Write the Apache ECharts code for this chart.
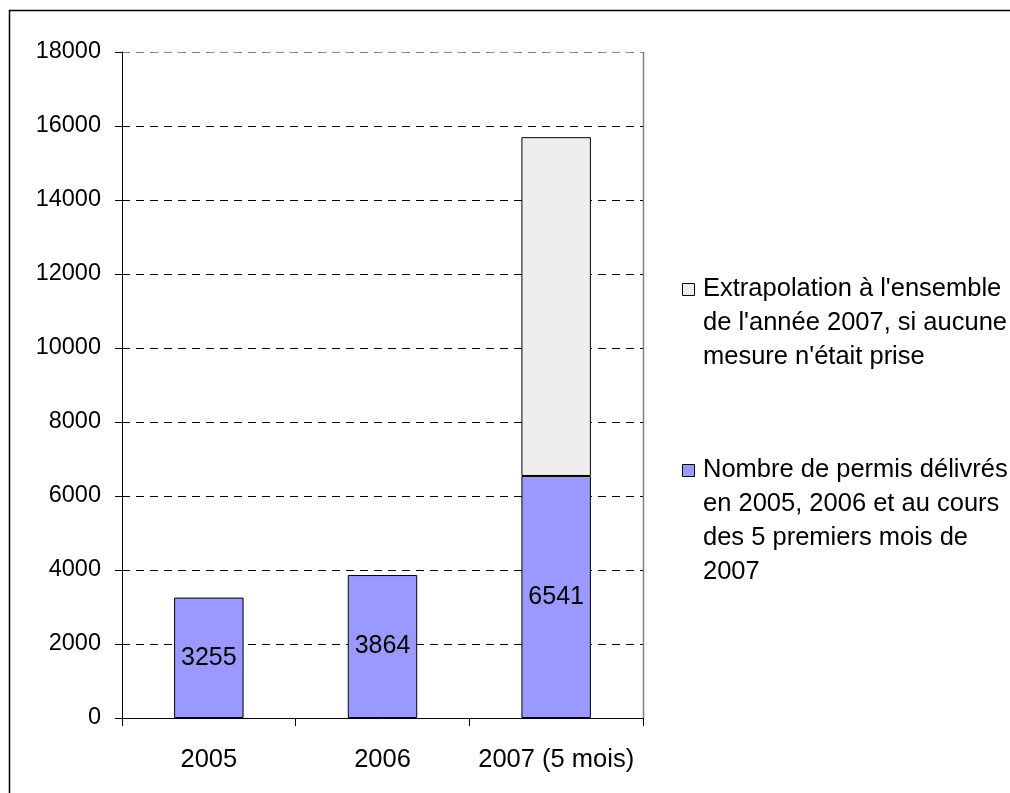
<!DOCTYPE html>
<html>
<head>
<meta charset="utf-8">
<script src="https://cdn.jsdelivr.net/npm/echarts@6/dist/echarts.min.js"></script>
<style>html,body{margin:0;padding:0;background:#fff}#c{width:1010px;height:793px}</style>
</head>
<body>
<div id="c"></div>
<script>
const categories = ['2005', '2006', '2007 (5 mois)'];
const permis = [3255, 3864, 6541];
const extrapolation = ['-', '-', 9157];
const yTicks = [0, 2000, 4000, 6000, 8000, 10000, 12000, 14000, 16000, 18000];
const nameExtra = "Extrapolation à l'ensemble\nde l'année 2007, si aucune\nmesure n'était prise";
const namePermis = "Nombre de permis délivrés\nen 2005, 2006 et au cours\ndes 5 premiers mois de\n2007";

const FONT = '"Liberation Sans", Arial, sans-serif';
const chart = echarts.init(document.getElementById('c'), null, {renderer: 'canvas'});
const splitColors = yTicks.map((v, i) => i === yTicks.length - 1 ? '#808080' : '#000');
chart.setOption({
  animation: false,
  backgroundColor: '#fff',
  textStyle: {fontFamily: FONT},
  grid: {left: 122, right: 367, top: 52, bottom: 75, containLabel: false},
  xAxis: {
    type: 'category',
    data: categories,
    boundaryGap: true,
    axisLine: {lineStyle: {color: '#000', width: 1}},
    axisTick: {show: true, length: 8, lineStyle: {color: '#000'}},
    axisLabel: {color: '#000', fontSize: 25.5, margin: 29, interval: 0, fontFamily: FONT}
  },
  yAxis: {
    type: 'value',
    min: 0, max: 18000, interval: 2000,
    axisLine: {show: true, lineStyle: {color: '#000', width: 1}},
    axisTick: {show: true, length: 7, lineStyle: {color: '#000'}},
    axisLabel: {color: '#000', fontSize: 23.5, margin: 21, fontFamily: FONT, formatter: v => String(v)},
    splitLine: {show: true, lineStyle: {color: splitColors, type: [8, 6], width: 1}}
  },
  series: [
    {
      name: namePermis,
      type: 'bar',
      stack: 'total',
      data: permis,
      barWidth: '40%',
      itemStyle: {color: '#9999FF', borderColor: '#000', borderWidth: 1},
      label: {show: true, position: 'inside', color: '#000', fontSize: 25, fontFamily: FONT}
    },
    {
      name: nameExtra,
      type: 'bar',
      stack: 'total',
      data: extrapolation,
      barWidth: '40%',
      itemStyle: {color: '#EEEEEE', borderColor: '#000', borderWidth: 1},
      label: {show: false}
    }
  ],
  graphic: [
    {type: 'rect', shape: {x: 9.5, y: 10.5, width: 1100, height: 900}, style: {fill: 'none', stroke: '#000', lineWidth: 1.5}, silent: true},
    {type: 'line', shape: {x1: 643.5, y1: 52, x2: 643.5, y2: 718}, style: {stroke: '#808080', lineWidth: 1.5}},
    {type: 'rect', shape: {x: 682.5, y: 283.5, width: 12, height: 12}, style: {fill: '#EEEEEE', stroke: '#000', lineWidth: 1}},
    {type: 'text', x: 703, y: 272, style: {text: nameExtra, fill: '#000', font: '25.5px ' + FONT, lineHeight: 34}},
    {type: 'rect', shape: {x: 682.5, y: 464.5, width: 12, height: 12}, style: {fill: '#9999FF', stroke: '#000', lineWidth: 1}},
    {type: 'text', x: 703, y: 453, style: {text: namePermis, fill: '#000', font: '25.5px ' + FONT, lineHeight: 34}}
  ]
});
</script>
</body>
</html>
